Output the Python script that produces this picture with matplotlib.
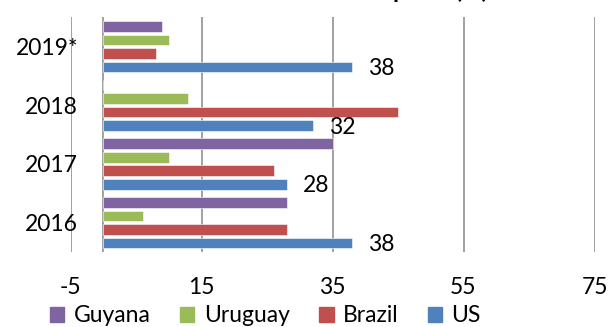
import matplotlib
matplotlib.use("Agg")
import matplotlib.pyplot as plt
import numpy as np

plt.rcParams['font.family'] = ['Lato', 'DejaVu Sans']

years = ["2016", "2017", "2018", "2019*"]
series = ["Guyana", "Uruguay", "Brazil", "US"]
guyana = [28, 35, 0, 9]
uruguay = [6, 10, 13, 10]
brazil = [28, 26, 45, 8]
us = [38, 28, 32, 38]
us_labels = ["38", "28", "32", "38"]
xticks = [-5, 15, 35, 55, 75]
colors = ["#8064A2", "#9BBB59", "#C0504D", "#4F81BD"]
title = "Market Share of Rice Imports (%)"

FS = 16.5

fig = plt.figure(figsize=(6.09, 3.27), dpi=100)
ax = fig.add_axes([0.1158, 0.2294, 0.8604, 0.7176])

y = np.arange(len(years))
slot = 0.2308
h = 0.183
offsets = [1.5, 0.5, -0.5, -1.5]
data = [guyana, uruguay, brazil, us]
for vals, off, c in zip(data, offsets, colors):
    ax.barh(y + off * slot, vals, height=h, color=c, edgecolor='white',
            linewidth=0.4, zorder=3)

for yi, v, lab in zip(y, us, us_labels):
    ax.annotate(lab, (v, yi - 1.5 * slot), xytext=(11.5, -1),
                textcoords='offset points', ha='left', va='center',
                fontsize=FS, zorder=4)

ax.set_xlim(-5, 75)
ax.set_ylim(-0.5, 3.5)
ax.set_xticks(xticks)
ax.set_xticklabels([str(t) for t in xticks], fontsize=FS)
ax.set_yticks(y)
ax.set_yticklabels(years, fontsize=FS)
ax.tick_params(axis='both', length=0)
ax.tick_params(axis='x', pad=18)
ax.tick_params(axis='y', pad=-5.5)
for s in ax.spines.values():
    s.set_visible(False)
ax.grid(axis='x', color='#888888', linewidth=1.1, zorder=0)
ax.axvline(0, color='#888888', linewidth=1.1, zorder=1)

fig.text(0.51, 1 + 2 / 327, title, ha='center', va='baseline',
         fontsize=FS + 1, fontweight='bold')

handles = [plt.Rectangle((0, 0), 1, 1, color=c) for c in colors]
fig.legend(handles, series, loc='lower center', ncol=4, frameon=False,
           bbox_to_anchor=(0.436, -0.04), fontsize=FS, handlelength=0.62,
           handleheight=0.62, handletextpad=0.4, columnspacing=1.3,
           borderpad=0.1)

fig.savefig("out.png", dpi=100)
